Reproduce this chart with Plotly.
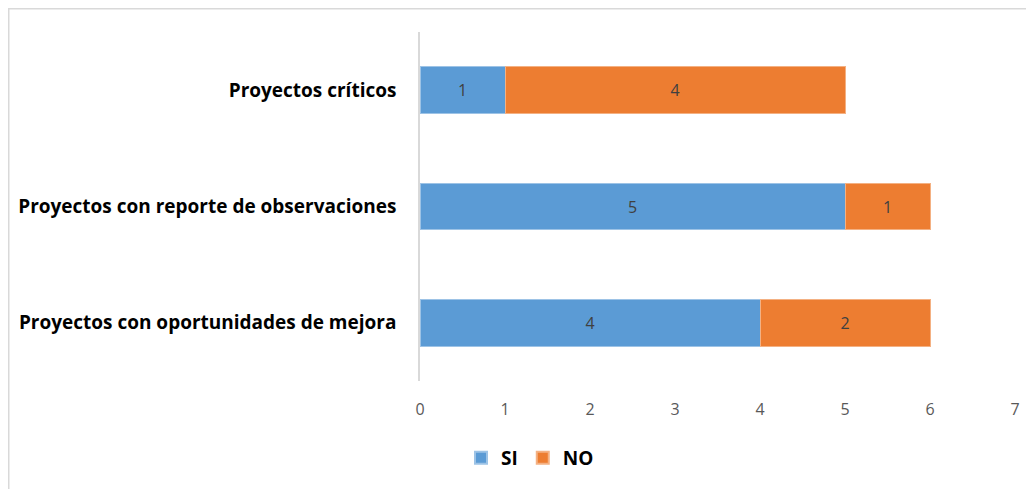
import plotly.graph_objects as go

categories = ["Proyectos con oportunidades de mejora", "Proyectos con reporte de observaciones", "Proyectos críticos"]
si_values = [4, 5, 1]
no_values = [2, 1, 4]
x_ticks = [0, 1, 2, 3, 4, 5, 6, 7]

# page has an 8px body margin; figure is sized so screen coordinates line up
OFF = 8
W, H = 1034 - OFF, 489 - OFF
L, R, T, B = 420 - OFF, 19, 32 - OFF, 108
pw, ph = W - L - R, H - T - B

def px(x):
    return (x - OFF - L) / pw

def py(y):
    return (H - B - (y - OFF)) / ph

FONT = "Open Sans"

fig = go.Figure()
fig.add_trace(go.Bar(
    y=categories, x=si_values, name="<b>SI</b>", orientation="h",
    marker=dict(color="#5B9BD5", line=dict(color="#9DC3E6", width=1)),
    text=si_values, textposition="inside", insidetextanchor="middle",
    textfont=dict(color="#404040", size=16, family=FONT),
))
fig.add_trace(go.Bar(
    y=categories, x=no_values, name="<b>NO</b>", orientation="h",
    marker=dict(color="#ED7D31", line=dict(color="#F4B183", width=1)),
    text=no_values, textposition="inside", insidetextanchor="middle",
    textfont=dict(color="#404040", size=16, family=FONT),
))

fig.add_shape(type="rect", xref="paper", yref="paper",
              x0=px(8.75), x1=px(1100), y0=py(8.75), y1=py(600),
              line=dict(color="#D9D9D9", width=1.5), fillcolor="rgba(0,0,0,0)", layer="below")

fig.update_layout(
    width=W, height=H,
    margin=dict(l=L, r=R, t=T, b=B, autoexpand=False),
    barmode="stack", bargap=0.6,
    plot_bgcolor="white", paper_bgcolor="white",
    font=dict(family=FONT),
    showlegend=True,
    legend=dict(orientation="h", x=px(530), xanchor="center", y=py(458), yanchor="middle",
                font=dict(size=19, color="#000000", family=FONT), traceorder="normal",
                itemwidth=30, itemsizing="constant"),
    xaxis=dict(range=[0, 7], tickvals=x_ticks, showgrid=False, zeroline=False, showline=False,
               tickfont=dict(size=16, color="#595959", family=FONT), ticklabelstandoff=17),
    yaxis=dict(showgrid=False, zeroline=False, showline=True, linecolor="#D9D9D9", linewidth=1.5,
               tickfont=dict(size=19, color="#000000", family=FONT), ticklabelstandoff=18,
               range=[-0.5, 2.5]),
)
fig.update_yaxes(tickprefix="<b>", ticksuffix="</b>")
fig.write_html("out.html")
